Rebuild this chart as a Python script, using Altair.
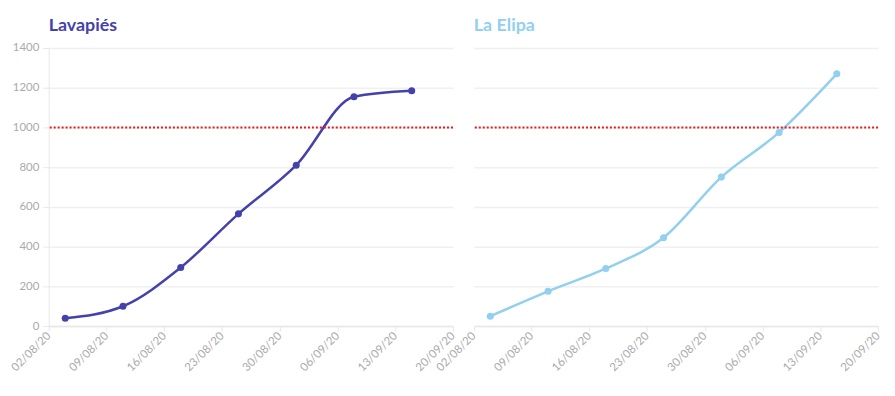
import altair as alt
import pandas as pd

dates = ["2020-08-04", "2020-08-11", "2020-08-18", "2020-08-25",
         "2020-09-01", "2020-09-08", "2020-09-15"]
lavapies = [40, 100, 295, 565, 810, 1155, 1185]
la_elipa = [50, 175, 290, 445, 750, 975, 1270]
threshold = [1000]
tick_days = [(8, 2), (8, 9), (8, 16), (8, 23), (8, 30), (9, 6), (9, 13), (9, 20)]

FONT = "Lato"
GRAY = "#aaaaaa"
Y_DOMAIN = [0, 1400]


def panel(title, values, color, show_y, title_offset):
    df = pd.DataFrame({"date": [d + "T00:00:00" for d in dates], "value": values})
    x = alt.X(
        "date:T",
        scale=alt.Scale(domain=[alt.DateTime(year=2020, month=8, date=2),
                                alt.DateTime(year=2020, month=9, date=20)]),
        axis=alt.Axis(
            title=None,
            values=[alt.DateTime(year=2020, month=m, date=d) for m, d in tick_days],
            format="%d/%m/%y",
            labelAngle=-45,
            labelAlign="right",
            labelBaseline="middle",
            labelColor=GRAY,
            labelFont=FONT,
            labelFontSize=11.5,
            labelOverlap=False,
            grid=False,
            domainColor="#e8e8e8",
            domainWidth=1.5,
            tickColor="#e8e8e8",
            tickSize=5,
            labelPadding=3,
        ),
    )
    y = alt.Y(
        "value:Q",
        scale=alt.Scale(domain=Y_DOMAIN),
        axis=alt.Axis(
            title=None,
            values=list(range(0, 1401, 200)),
            format="d",
            labels=show_y,
            ticks=show_y,
            domain=show_y,
            labelOverlap=False,
            labelColor=GRAY,
            labelFont=FONT,
            labelFontSize=11.5,
            gridColor="#f0f0f0",
            gridWidth=1.5,
            domainColor="#e8e8e8",
            tickColor="#e8e8e8",
            tickSize=6,
            labelPadding=4,
        ),
    )
    base = alt.Chart(df)
    line = base.mark_line(color=color, strokeWidth=2.5, interpolate="monotone").encode(x=x, y=y)
    pts = base.mark_point(color=color, filled=True, size=50, opacity=1).encode(x=x, y=y)
    rule = alt.Chart(pd.DataFrame({"value": threshold})).mark_rule(
        color="#e41a1c", strokeDash=[2, 2], strokeWidth=2
    ).encode(y=y)
    return alt.layer(line, pts, rule).properties(
        width=407, height=280,
        title=alt.TitleParams(title, anchor="start", frame="group", color=color, font=FONT,
                              fontSize=18, fontWeight="bold", offset=title_offset),
    )


chart = alt.hconcat(
    panel("Lavapiés", lavapies, "#4442aa", True, 7),
    panel("La Elipa", la_elipa, "#93cfee", False, 13),
    spacing=21,
    bounds="flush",
).configure_view(stroke=None).properties(padding={"left": 1, "top": 8, "right": 5, "bottom": 5})

chart.save("out.html", embed_options={"renderer": "svg", "actions": False})
